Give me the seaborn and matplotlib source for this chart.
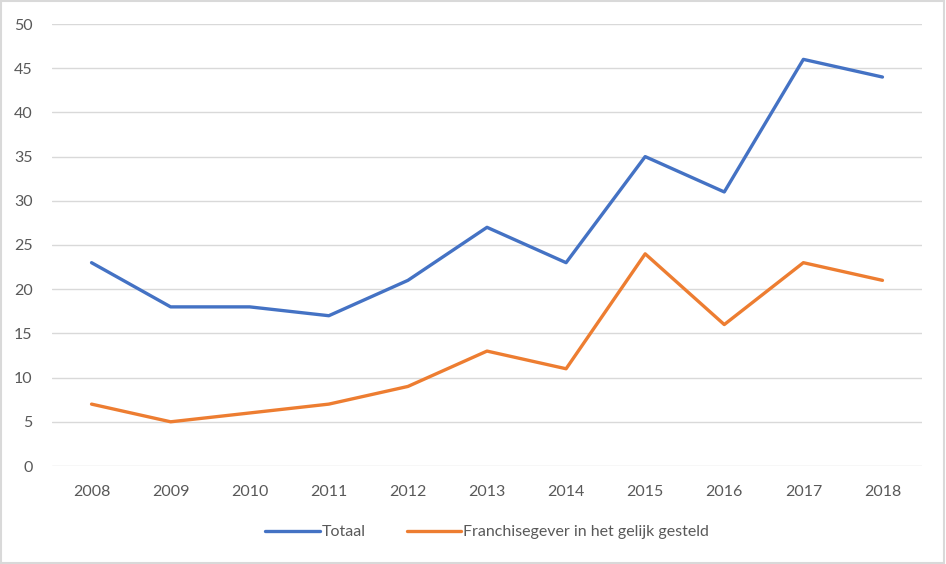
import pandas as pd
import matplotlib.pyplot as plt
import seaborn as sns
from matplotlib.patches import Rectangle

years = ['2008', '2009', '2010', '2011', '2012', '2013', '2014', '2015', '2016', '2017', '2018']
totaal = [23, 18, 18, 17, 21, 27, 23, 35, 31, 46, 44]
franchise = [7, 5, 6, 7, 9, 13, 11, 24, 16, 23, 21]
series_names = ['Totaal', 'Franchisegever in het gelijk gesteld']
colors = ['#4472C4', '#ED7D31']

df = pd.DataFrame({
    'idx': list(range(len(years))) * 2,
    'waarde': totaal + franchise,
    'reeks': [series_names[0]] * len(years) + [series_names[1]] * len(years),
})

sns.set_style('white')
plt.rcParams['font.family'] = ['Lato', 'DejaVu Sans']
text_color = '#595959'

fig = plt.figure(figsize=(9.46, 5.64), dpi=100)
ax = fig.add_axes([52 / 946, 98 / 564, 870 / 946, 442 / 564])

sns.lineplot(data=df, x='idx', y='waarde', hue='reeks', palette=colors,
             linewidth=2.4, ax=ax, legend=True)

ax.set_xlim(-0.5, len(years) - 0.5)
ax.set_ylim(0, 50)
ax.set_yticks(range(0, 51, 5))
ax.set_xticks(range(len(years)))
ax.set_xticklabels(years)
ax.grid(axis='y', color='#D9D9D9', linewidth=1)
ax.set_axisbelow(True)
for s in ax.spines.values():
    s.set_visible(False)
ax.tick_params(axis='both', length=0, labelsize=11.5, labelcolor=text_color)
ax.tick_params(axis='y', pad=14)
ax.tick_params(axis='x', pad=14)
ax.set_xlabel('')
ax.set_ylabel('')

handles, labels = ax.get_legend_handles_labels()
ax.legend(handles, labels, loc='center', bbox_to_anchor=(0.5, -0.15),
          ncol=2, frameon=False, fontsize=11.5, labelcolor=text_color,
          handlelength=3.4, handletextpad=0.1, columnspacing=2.6)

fig.patches.append(Rectangle((0.001, 0.002), 0.997, 0.996, transform=fig.transFigure,
                             fill=False, edgecolor='#D9D9D9', linewidth=1.5))

fig.savefig('out.png', dpi=100)
